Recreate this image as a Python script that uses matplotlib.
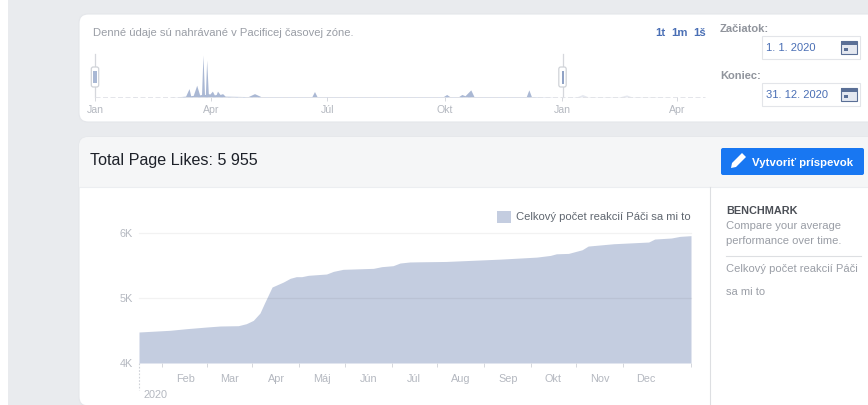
import matplotlib
matplotlib.use('Agg')
import matplotlib.pyplot as plt
from matplotlib.patches import FancyBboxPatch, Rectangle, Polygon

W, H = 868, 405

plt.rcParams['font.family'] = ['Liberation Sans', 'DejaVu Sans']

# Main chart: day of year / total page likes
like_days = [0, 20.5, 31.5, 45, 53.6, 65.7, 71, 75.6, 80, 83, 88, 95.5, 100, 104, 107.6, 112, 124, 128.6,
             135, 155, 160.5, 168, 172.6, 179, 186, 203, 239, 263, 272, 276, 284, 293, 297, 314, 337, 341,
             352, 357.7, 365]
like_vals = [4477, 4503, 4528, 4554, 4569, 4574, 4605, 4656, 4769, 4923, 5169, 5246, 5303, 5328, 5328, 5349,
             5369, 5410, 5441, 5456, 5482, 5497, 5538, 5554, 5557, 5562, 5598, 5629, 5655, 5680, 5686, 5742,
             5799, 5835, 5861, 5907, 5923, 5948, 5959]
month_labels = ['Feb', 'Mar', 'Apr', 'Máj', 'Jún', 'Júl', 'Aug', 'Sep', 'Okt', 'Nov', 'Dec']
month_starts = [31, 60, 91, 121, 152, 182, 213, 244, 274, 305, 335]
month_ticks = [15, 45, 75, 106, 136, 167, 197, 228, 259, 289, 320, 365]
y_ticks = [4000, 5000, 6000]
y_labels = ['4K', '5K', '6K']

# Overview sparkline: days since 1 Jan 2020 / share of peak
spark_days = [0, 30, 31, 32, 60, 61, 62, 71, 73.7, 75, 77, 79.7, 82, 83.5, 84.6, 85.8, 86.5, 87.5, 88.8, 90, 92,
              93.5, 95, 96, 98, 100, 102, 120, 125, 130, 170, 172, 174, 273, 275.6, 278, 285, 287.5, 290, 294.5,
              297, 338, 340, 342, 365]
spark_vals = [0, 0, 1, 0, 0, 1, 0, 2, 20, 3, 4, 28, 5, 6, 100, 6, 6, 88, 8, 7, 14, 5, 6, 14, 6, 8, 2, 1, 8, 1,
              1, 13, 1, 1, 6, 1, 1, 6, 3, 17, 1, 1, 17, 1, 0]
spark_next_days = [365, 378, 382, 386, 412, 416.6, 420, 440, 450]
spark_next_vals = [0, 1, 6, 1, 1, 5, 1, 1, 0]
overview_labels = ['Jan', 'Apr', 'Júl', 'Okt', 'Jan', 'Apr']
overview_ticks = [0, 91, 182, 274, 366, 456]

AREA = '#c4cde0'
GREY = '#9a9ea6'
LIGHT = '#b4b8c0'
BLUE = '#4a6fb5'


def axes_px(fig, left, top, right, bottom):
    return fig.add_axes([left / W, 1 - bottom / H, (right - left) / W, (bottom - top) / H])


fig = plt.figure(figsize=(W / 100, H / 100), dpi=100, facecolor='#e9ebee')

# page furniture in pixel coordinates
ui = fig.add_axes([0, 0, 1, 1], zorder=0)
ui.set_xlim(0, W)
ui.set_ylim(H, 0)
ui.axis('off')

ui.add_patch(Rectangle((0, 0), 7.5, H, fc='white', ec='none'))
for top, bottom in [(14, 122), (137, 406)]:
    ui.add_patch(FancyBboxPatch((79, top), 840, bottom - top, boxstyle='round,pad=0,rounding_size=9',
                                fc='white', ec='#e4e6ea', lw=0.8))
ui.add_patch(FancyBboxPatch((79, 137), 840, 50, boxstyle='round,pad=0,rounding_size=9',
                            fc='#f5f6f7', ec='none'))
ui.add_patch(Rectangle((79, 170), 840, 17, fc='#f5f6f7', ec='none'))
ui.plot([79, 868], [187, 187], color='#eceef1', lw=0.8)
ui.plot([710, 710], [187, H], color='#dddfe2', lw=0.8)

ui.text(93, 33, 'Denné údaje sú nahrávané v Pacificej časovej zóne.', fontsize=8.13, color=GREY, va='center')
for x, s in [(660, '1t'), (679.5, '1m'), (700, '1š')]:
    ui.text(x, 33, s, fontsize=8.2, color=BLUE, weight='bold', va='center', ha='center')

for label, ylab, ybox, date in [('Začiatok:', 29.5, 36, '1. 1. 2020'), ('Koniec:', 76, 83, '31. 12. 2020')]:
    ui.text(720, ylab, label, fontsize=8.0, color='#90949c', weight='bold', va='center')
    ui.add_patch(Rectangle((762, ybox), 98, 23, fc='white', ec='#e3e5e9', lw=0.8))
    ui.text(766, ybox + 12, date, fontsize=8.0, color=BLUE, va='center')
    ui.add_patch(Rectangle((841, ybox + 5), 16, 13, fc='#e4e8f0', ec='#5a6f96', lw=0.8))
    ui.add_patch(Rectangle((841, ybox + 5), 16, 4, fc='#5a6f96', ec='none'))
    ui.add_patch(Rectangle((844, ybox + 12), 4, 3, fc='#5a6f96', ec='none'))

ui.text(90, 160, 'Total Page Likes: 5 955', fontsize=11.6, color='#1d2129', va='center')

ui.add_patch(FancyBboxPatch((721, 148), 143, 27, boxstyle='round,pad=0,rounding_size=2', fc='#1877f2', ec='none'))
ui.add_patch(Polygon([(731, 168), (732, 163), (742, 153), (746, 157), (736, 167)], fc='white', ec='none'))
ui.text(752.5, 162.5, 'Vytvoriť príspevok', fontsize=8.2, color='white', weight='bold', va='center')

ui.text(726, 210.5, 'BENCHMARK', fontsize=7.8, color='#4b4f56', weight='bold', va='center')
ui.text(726, 226, 'Compare your average', fontsize=8.1, color=GREY, va='center')
ui.text(726, 241, 'performance over time.', fontsize=8.1, color=GREY, va='center')
ui.plot([726, 861], [256, 256], color='#dddfe2', lw=0.8)
ui.text(726, 269, 'Celkový počet reakcií Páči', fontsize=8.0, color=GREY, va='center')
ui.text(726, 292, 'sa mi to', fontsize=8.0, color=GREY, va='center')

# overview sparkline
sp = axes_px(fig, 95, 55, 705, 97)
sp.patch.set_alpha(0)
sp.set_xlim(0, (705 - 95) / 1.276)
sp.set_ylim(0, 100)
sp.fill_between(spark_days, spark_vals, color='#aab8d4', lw=0)
sp.fill_between(spark_next_days, spark_next_vals, color='#e6e9f0', lw=0)
for s in sp.spines.values():
    s.set_visible(False)
sp.yaxis.set_visible(False)
sp.set_xticks(overview_ticks, overview_labels)
sp.tick_params(axis='x', length=3, width=0.7, color='#d5d7dc', labelcolor=LIGHT, labelsize=7.6, pad=3)
sp.plot([0, 478], [0, 0], color='#dfe1e6', lw=0.6, ls=(0, (6, 3)), clip_on=False)

# range handles
for x in (95, 562.5):
    ui.plot([x, x], [54, 97], color='#d5d7dc', lw=0.9)
    ui.add_patch(FancyBboxPatch((x - 3.7, 67), 7.4, 20, boxstyle='round,pad=0,rounding_size=2',
                                fc='white', ec='#d0d3d8', lw=0.9, zorder=3))
ui.add_patch(Rectangle((93.3, 71), 3.5, 12, fc='#a9b8d4', ec='none', zorder=4))
ui.plot([561.7, 561.7], [71, 83], color='#8da0c4', lw=0.7, zorder=4)
ui.plot([563.3, 563.3], [71, 83], color='#8da0c4', lw=0.7, zorder=4)

# main chart
ax = axes_px(fig, 139, 233, 691, 363)
ax.patch.set_alpha(0)
ax.set_xlim(0, 365)
ax.set_ylim(4000, 6000)
ax.fill_between(like_days, like_vals, 4000, color=AREA, lw=0, label='Celkový počet reakcií Páči sa mi to', zorder=1)
ax.grid(False)
for y in y_ticks[1:]:
    ax.plot([0, 365], [y, y], color='black', alpha=0.05, lw=0.9, zorder=2, clip_on=False)
for s in ax.spines.values():
    s.set_visible(False)
ax.set_yticks(y_ticks, y_labels)
ax.tick_params(axis='y', length=0, labelcolor=LIGHT, labelsize=7.8, pad=4.5)
ax.set_xticks(month_starts, month_labels)
ax.set_xticks(month_ticks, minor=True)
ax.tick_params(axis='x', which='major', length=0, labelcolor=LIGHT, labelsize=7.8, pad=8)
ax.tick_params(axis='x', which='minor', length=3, width=0.7, color='#d5d7dc')
ax.legend(loc='lower right', bbox_to_anchor=(1.0, 1.08), frameon=False, fontsize=8.1, labelcolor='#606770',
          handlelength=1.25, handleheight=1.25, handletextpad=0.45, borderaxespad=0, borderpad=0)

ui.plot([139, 139], [363, 390], color='#cfd2d8', lw=0.8, ls=(0, (1.5, 1.5)))
ui.text(143.5, 395, '2020', fontsize=7.8, color=LIGHT, va='center')

fig.savefig('out.png', dpi=100, facecolor=fig.get_facecolor())
